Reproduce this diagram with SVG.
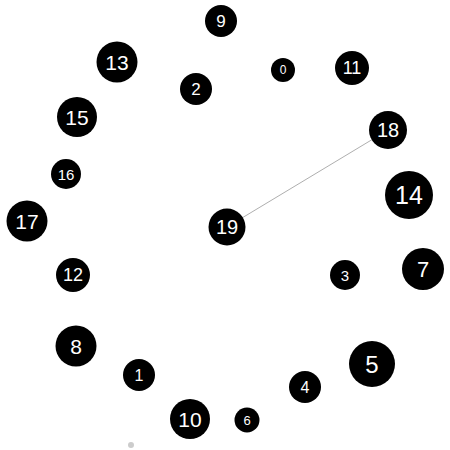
<svg xmlns="http://www.w3.org/2000/svg" width="450" height="450" viewBox="0 0 450 450">
<style>
.n circle{fill:#000}
.n text{fill:#fff;font-family:"Liberation Sans",Arial,sans-serif;text-anchor:middle;dominant-baseline:central}
.e{stroke:#999;stroke-width:0.8;fill:none}
</style>
<rect width="450" height="450" fill="#fff"/>
<g id="edges">
<line class="e" x1="227" y1="227" x2="388" y2="130"/>
</g>
<g id="n0" class="n"><circle cx="283" cy="70" r="12"/><text x="283" y="70" font-size="12">0</text></g>
<g id="n1" class="n"><circle cx="139" cy="375" r="16"/><text x="139" y="375" font-size="16">1</text></g>
<g id="n2" class="n"><circle cx="196" cy="89" r="16"/><text x="196" y="89" font-size="17">2</text></g>
<g id="n3" class="n"><circle cx="345" cy="275" r="15"/><text x="345" y="275" font-size="15">3</text></g>
<g id="n4" class="n"><circle cx="305" cy="387" r="16"/><text x="305" y="387" font-size="16">4</text></g>
<g id="n5" class="n"><circle cx="372" cy="364" r="23"/><text x="372" y="364" font-size="24">5</text></g>
<g id="n6" class="n"><circle cx="247" cy="420" r="12.5"/><text x="247" y="420" font-size="13">6</text></g>
<g id="n7" class="n"><circle cx="423" cy="269" r="21"/><text x="423" y="269" font-size="22">7</text></g>
<g id="n8" class="n"><circle cx="76" cy="346" r="20.5"/><text x="76" y="346" font-size="21">8</text></g>
<g id="n9" class="n"><circle cx="221" cy="21" r="16"/><text x="221" y="21" font-size="17">9</text></g>
<g id="n10" class="n"><circle cx="190" cy="419" r="20"/><text x="190" y="419" font-size="21">10</text></g>
<g id="n11" class="n"><circle cx="352" cy="68" r="17"/><text x="352" y="68" font-size="18">11</text></g>
<g id="n12" class="n"><circle cx="73" cy="275" r="17"/><text x="73" y="275" font-size="18">12</text></g>
<g id="n13" class="n"><circle cx="117" cy="62" r="20.5"/><text x="117" y="62" font-size="21">13</text></g>
<g id="n14" class="n"><circle cx="409" cy="195" r="24"/><text x="409" y="195" font-size="25">14</text></g>
<g id="n15" class="n"><circle cx="77" cy="117" r="20"/><text x="77" y="117" font-size="21">15</text></g>
<g id="n16" class="n"><circle cx="66" cy="174" r="15"/><text x="66" y="174" font-size="15">16</text></g>
<g id="n17" class="n"><circle cx="27" cy="221" r="20.5"/><text x="27" y="221" font-size="21">17</text></g>
<g id="n18" class="n"><circle cx="388" cy="130" r="19"/><text x="388" y="130" font-size="20">18</text></g>
<g id="n19" class="n"><circle cx="227" cy="227" r="18.5"/><text x="227" y="227" font-size="20">19</text></g>
<g id="dot"><circle cx="131" cy="445" r="3" fill="#ccc"/></g>
</svg>
